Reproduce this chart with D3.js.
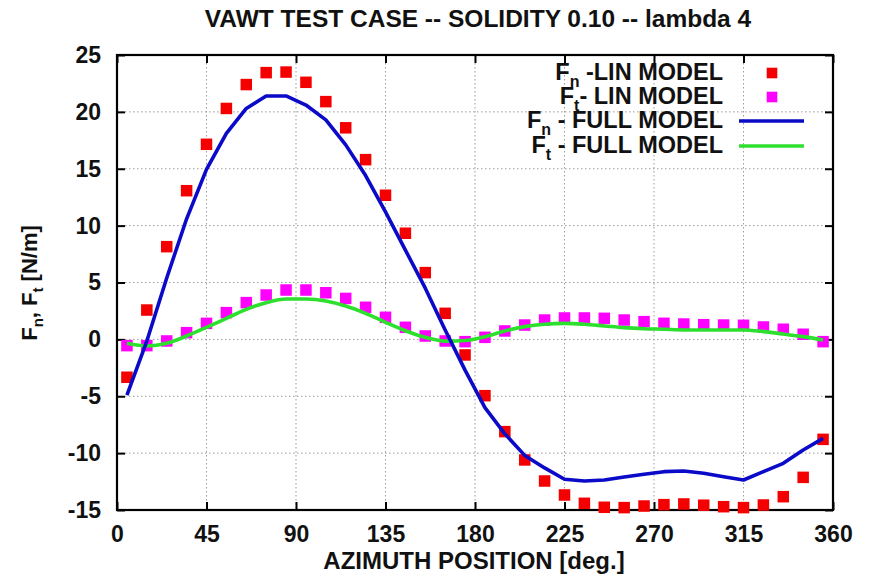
<!DOCTYPE html>
<html><head><meta charset="utf-8">
<script src="https://cdn.jsdelivr.net/npm/d3@7"></script>
<style>body{margin:0;background:#fff}svg{display:block}</style>
</head><body>
<svg id="chart" width="869" height="585"></svg>
<script>
// ---- data ----
const azimuth = [5,15,25,35,45,55,65,75,85,95,105,115,125,135,145,155,165,175,
                 185,195,205,215,225,235,245,255,265,275,285,295,305,315,325,335,345,355];
const fnLin = [-3.33,2.58,8.15,13.07,17.15,20.3,22.4,23.45,23.5,22.6,20.9,18.6,15.8,12.67,9.33,5.87,2.29,-1.37,
               -4.95,-8.11,-10.6,-12.45,-13.68,-14.41,-14.76,-14.79,-14.65,-14.53,-14.47,-14.58,-14.71,-14.79,-14.56,-13.83,-12.13,-8.79];
const ftLin = [-0.55,-0.55,-0.14,0.59,1.41,2.35,3.23,3.9,4.34,4.34,4.1,3.6,2.82,1.94,1.06,0.3,-0.14,-0.2,
               0.18,0.74,1.26,1.7,1.88,1.88,1.85,1.7,1.56,1.41,1.35,1.29,1.26,1.24,1.09,0.89,0.45,-0.2];
const fnFull = [-4.9,-0.15,5.4,10.6,14.95,18.1,20.3,21.4,21.4,20.6,19.3,17.1,14.4,11.2,7.85,4.5,0.83,-2.7,
                -6.0,-8.3,-10.2,-11.3,-12.3,-12.45,-12.36,-12.1,-11.86,-11.63,-11.57,-11.77,-12.07,-12.36,-11.63,-10.9,-9.72,-8.7];
const ftFull = [-0.35,-0.58,-0.35,0.3,1.06,1.85,2.64,3.23,3.55,3.55,3.38,2.94,2.29,1.5,0.76,0.18,-0.15,-0.1,
                0.24,0.74,1.12,1.33,1.41,1.33,1.18,1.03,0.94,0.89,0.83,0.83,0.83,0.83,0.68,0.47,0.24,-0.05];
const xTicks = [0,45,90,135,180,225,270,315,360];
const yTicks = [-15,-10,-5,0,5,10,15,20,25];
const titleText = "VAWT TEST CASE -- SOLIDITY 0.10 -- lambda 4";
const xLabel = "AZIMUTH POSITION [deg.]";
const legendItems = [
  {main:"F", sub:"n", rest:" -LIN MODEL", kind:"sq", color:"#f40000"},
  {main:"F", sub:"t", rest:"- LIN MODEL", kind:"sq", color:"#ff00ff"},
  {main:"F", sub:"n", rest:" - FULL MODEL", kind:"ln", color:"#0a0ac8"},
  {main:"F", sub:"t", rest:" - FULL MODEL", kind:"ln", color:"#2ee02e"}
];

// ---- layout ----
const L = 117, R = 833, T = 55, B = 510;
const FONT = "'Liberation Sans', Arial, Helvetica, sans-serif";
const svg = d3.select("#chart").style("font-family", FONT).style("font-weight", "bold");

const x = d3.scaleLinear().domain([0,360]).range([L,R]);
const y = d3.scaleLinear().domain([-15,25]).range([B,T]);

// grid
const grid = svg.append("g").attr("stroke","#9a9a9a").attr("stroke-width",1).attr("stroke-dasharray","1.5,2.5");
grid.selectAll("line.gx").data(xTicks.slice(1,-1)).join("line")
  .attr("x1",d=>x(d)).attr("x2",d=>x(d)).attr("y1",T).attr("y2",B);
grid.selectAll("line.gy").data(yTicks.slice(1,-1)).join("line")
  .attr("x1",L).attr("x2",R).attr("y1",d=>y(d)).attr("y2",d=>y(d));

// axes (inward ticks on all sides)
function styleAxis(g){
  g.select(".domain").remove();
  g.selectAll(".tick line").attr("stroke","#000").attr("stroke-width",2);
}
const fmt = d => String(d);
svg.append("g").attr("transform",`translate(0,${B})`)
  .call(d3.axisBottom(x).tickValues(xTicks).tickSize(-8).tickPadding(16).tickFormat(fmt))
  .call(styleAxis)
  .call(g=>g.selectAll("text").attr("font-size",23).attr("fill","#111").attr("font-family",FONT).attr("font-weight","bold"));
svg.append("g").attr("transform",`translate(0,${T})`)
  .call(d3.axisTop(x).tickValues(xTicks).tickSize(-8).tickFormat(""))
  .call(styleAxis);
svg.append("g").attr("transform",`translate(${L},0)`)
  .call(d3.axisLeft(y).tickValues(yTicks).tickSize(-8).tickPadding(16).tickFormat(fmt))
  .call(styleAxis)
  .call(g=>g.selectAll("text").attr("font-size",23).attr("fill","#111").attr("font-family",FONT).attr("font-weight","bold"));
svg.append("g").attr("transform",`translate(${R},0)`)
  .call(d3.axisRight(y).tickValues(yTicks).tickSize(-8).tickFormat(""))
  .call(styleAxis);

// frame
svg.append("rect").attr("x",L).attr("y",T).attr("width",R-L).attr("height",B-T)
  .attr("fill","none").attr("stroke","#000").attr("stroke-width",2.2);

// squares
const SQ = 11.5;
function squares(vals, color){
  svg.append("g").selectAll("rect").data(azimuth.map((a,i)=>[a,vals[i]])).join("rect")
    .attr("x",d=>x(d[0])-SQ/2).attr("y",d=>y(d[1])-SQ/2)
    .attr("width",SQ).attr("height",SQ).attr("fill",color);
}
squares(fnLin, legendItems[0].color);
squares(ftLin, legendItems[1].color);

// lines
svg.append("path").datum(azimuth.map((a,i)=>[a,ftFull[i]]))
  .attr("d", d3.line().x(d=>x(d[0])).y(d=>y(d[1])).curve(d3.curveMonotoneX)).attr("fill","none")
  .attr("stroke",legendItems[3].color).attr("stroke-width",3.6).attr("stroke-linejoin","round");
svg.append("path").datum(azimuth.map((a,i)=>[a,fnFull[i]]))
  .attr("d", d3.line().x(d=>x(d[0])).y(d=>y(d[1]))).attr("fill","none")
  .attr("stroke",legendItems[2].color).attr("stroke-width",3.6).attr("stroke-linejoin","round");

// title
svg.append("text").attr("x",478).attr("y",27).attr("text-anchor","middle")
  .attr("font-size",24.5).attr("fill","#111").text(titleText);

// x label
svg.append("text").attr("x",474).attr("y",569).attr("text-anchor","middle")
  .attr("font-size",24).attr("fill","#111").text(xLabel);

// y label
const yl = svg.append("text").attr("transform","translate(37,283) rotate(-90)")
  .attr("text-anchor","middle").attr("font-size",22).attr("fill","#111");
yl.append("tspan").text("F");
yl.append("tspan").attr("dy",6).attr("font-size",15).text("n");
yl.append("tspan").attr("dy",-6).text(", F");
yl.append("tspan").attr("dy",6).attr("font-size",15).text("t");
yl.append("tspan").attr("dy",-6).text(" [N/m]");

// legend
const legY = [80, 104, 128, 153];
legendItems.forEach((it,i)=>{
  const t = svg.append("text").attr("x",723).attr("y",legY[i]).attr("text-anchor","end")
    .attr("font-size",23.5).attr("fill","#111");
  t.append("tspan").text(it.main);
  t.append("tspan").attr("dy",7).attr("font-size",16).text(it.sub);
  t.append("tspan").attr("dy",-7).text(it.rest);
  const cy = legY[i] - 7;
  if(it.kind==="sq"){
    svg.append("rect").attr("x",772-5.3).attr("y",cy-5.3).attr("width",10.6).attr("height",10.6).attr("fill",it.color);
  } else {
    svg.append("line").attr("x1",739).attr("x2",804).attr("y1",cy).attr("y2",cy)
      .attr("stroke",it.color).attr("stroke-width",3.6);
  }
});
</script>
</body></html>
